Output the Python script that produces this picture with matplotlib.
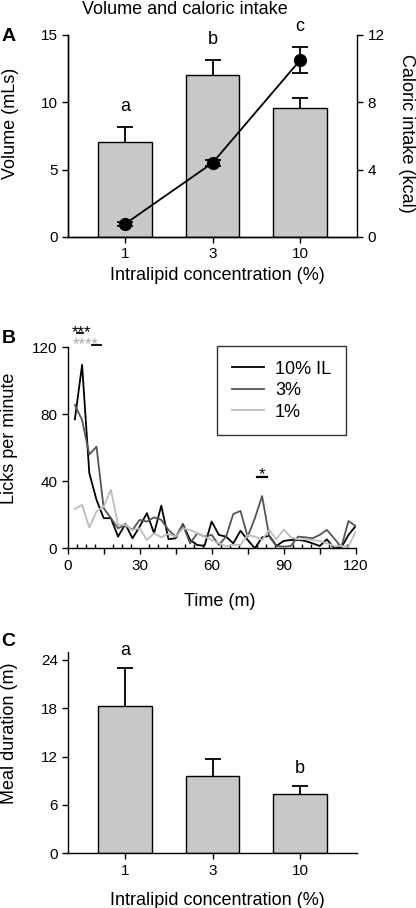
import numpy as np
import matplotlib
matplotlib.use("Agg")
import matplotlib.pyplot as plt
from matplotlib.ticker import MultipleLocator, FuncFormatter

plt.rcParams['font.family'] = ['Liberation Sans', 'DejaVu Sans']
plt.rcParams['axes.linewidth'] = 1.0

# panel A: volume (bars) and caloric intake (line)
conc_labels = ['1', '3', '10']
volume = [7.08, 12.03, 9.58]
volume_err = [1.11, 1.11, 0.72]
kcal = [0.77, 4.4, 10.5]
kcal_err = [0.1, 0.2, 0.78]
letters_a = ['a', 'b', 'c']

# panel B: licks per minute, 3 min bins
minutes = np.arange(3, 121, 3)
licks_10 = [77, 109.5, 45, 29, 18, 18, 7, 14.5, 6, 13,
            21, 9, 25.5, 5.5, 6, 14.5, 5, 2, 1.5, 16,
            8, 7, 3, 10.5, 5, 0, 6.5, 7.5, 1.5, 4.4,
            5, 5, 4.4, 3, 1.4, 5.4, 0, 0.5, 8, 13.3]
licks_3 = [85.6, 76.6, 56, 60.7, 24, 18, 12, 14, 11, 17,
           16, 18.5, 17, 11, 7, 14, 3, 9, 7, 8,
           2, 7, 20.5, 22.3, 7, 18, 31.2, 7, 1.4, 1,
           1.4, 7, 6.6, 6, 8, 11, 6, 0.6, 16.3, 13.3]
licks_1 = [23.5, 26, 12.5, 22, 25, 35, 14, 14, 11, 12,
           5, 9, 6.6, 8.6, 7, 12, 11, 9, 7, 5,
           3, 1.4, 2, 2, 8, 7, 5, 11, 5.4, 11.3,
           6.6, 5.4, 5.4, 5, 4.4, 3, 1.4, 1.4, 1, 10]

# panel C: meal duration
duration = [18.27, 9.61, 7.30]
duration_err = [4.73, 2.14, 1.07]
letters_c = ['a', '', 'b']

bar_color = '#c8c8c8'
tick_fs = 11
label_fs = 13

fig = plt.figure(figsize=(4.16, 9.08), dpi=100)
x = np.arange(len(conc_labels))


def bars_with_upper_err(ax, vals, errs):
    ax.bar(x, vals, width=0.61, color=bar_color, edgecolor='black', linewidth=1.0, zorder=2)
    _, caps, _ = ax.errorbar(x, vals, yerr=[np.zeros(len(vals)), errs], fmt='none',
                             ecolor='black', elinewidth=1.3, capsize=5.5, capthick=1.3,
                             zorder=1)
    # hide the cap sitting on the bar top
    for c in caps:
        if np.allclose(c.get_ydata(), vals):
            c.set_visible(False)


# ---------- A ----------
axA = fig.add_axes([0.1635, 0.739, 0.6947, 0.2225])
bars_with_upper_err(axA, volume, volume_err)
axA.set_xlim(-0.65, 2.65)
axA.set_ylim(0, 15)
axA.set_yticks([0, 5, 10, 15])
axA.set_xticks(x)
axA.set_xticklabels(conc_labels)
axA.spines['top'].set_visible(False)
axA.spines['right'].set_visible(False)
axA.tick_params(labelsize=tick_fs, direction='out', length=4, width=1)
axA.set_ylabel('Volume (mLs)', fontsize=label_fs)
axA.yaxis.set_label_coords(-0.168, 0.56)
axA.set_xlabel('Intralipid concentration (%)', fontsize=label_fs)
axA.xaxis.set_label_coords(0.516, -0.149)
axA.xaxis.label.set_va('top')

axA2 = axA.twinx()
axA2.errorbar(x, kcal, yerr=kcal_err, fmt='-o', color='black', ms=8.5, lw=1.3,
              elinewidth=1.3, capsize=5.5, capthick=1.3, zorder=3)
axA2.set_ylim(0, 12)
axA2.set_yticks([0, 4, 8, 12])
axA2.spines['top'].set_visible(False)
axA2.tick_params(labelsize=tick_fs, direction='out', length=4, width=1)
axA2.set_ylabel('Caloric intake (kcal)', fontsize=label_fs, rotation=270)
axA2.yaxis.set_label_coords(1.142, 0.515)
axA2.yaxis.label.set_va('bottom')

tops = [volume[0] + volume_err[0], volume[1] + volume_err[1],
        (kcal[2] + kcal_err[2]) * 15 / 12]
for xi, top, let in zip(x, tops, letters_a):
    axA.text(xi, top + 1.2, let, ha='center', va='baseline', fontsize=label_fs, clip_on=False)

fig.text(185 / 416, 1 - 1 / 908, 'Volume and caloric intake', ha='center', va='top', fontsize=label_fs)
fig.text(0.004, 1 - 36.7 / 908, 'A', ha='left', va='center', fontsize=14, fontweight='bold')

# ---------- B ----------
axB = fig.add_axes([0.1627, 0.3961, 0.6923, 0.2214])
axB.plot(minutes, licks_10, color='black', lw=1.3, label='10% IL')
axB.plot(minutes, licks_3, color='#555555', lw=1.3, label='3%')
axB.plot(minutes, licks_1, color='#bdbdbd', lw=1.3, label='1%')
axB.set_xlim(0, 120)
axB.set_ylim(0, 120)
axB.set_yticks([0, 40, 80, 120])
axB.xaxis.set_major_locator(MultipleLocator(15))
axB.xaxis.set_major_formatter(FuncFormatter(lambda v, p: f'{v:.0f}' if v % 30 == 0 else ''))
axB.xaxis.set_minor_locator(MultipleLocator(3.75))
axB.spines['top'].set_visible(False)
axB.spines['right'].set_visible(False)
axB.tick_params(axis='both', which='major', labelsize=tick_fs, direction='out', length=4, width=1)
axB.tick_params(axis='x', which='minor', direction='in', length=3, width=1)
axB.set_ylabel('Licks per minute', fontsize=label_fs)
axB.yaxis.set_label_coords(-0.172, 0.546)
axB.set_xlabel('Time (m)', fontsize=label_fs)
axB.xaxis.set_label_coords(0.529, -0.222)
axB.xaxis.label.set_va('top')
leg = axB.legend(loc='upper right', bbox_to_anchor=(0.965, 1.006), borderaxespad=0,
                 fontsize=label_fs, frameon=True, fancybox=False, handlelength=1.8,
                 labelspacing=0.25, borderpad=0.8, handletextpad=0.6)
leg.get_frame().set_edgecolor('black')
leg.get_frame().set_linewidth(1.0)

# significance marks
axB.text(5.9, 133.3, '***', ha='center', va='top', fontsize=12, color='black', clip_on=False)
axB.plot([3.75, 6.5], [128.5, 128.5], color='black', lw=1.3, clip_on=False)
axB.text(7.4, 126.1, '****', ha='center', va='top', fontsize=12, color='#aaaaaa', clip_on=False)
axB.plot([10, 14], [121.4, 121.4], color='black', lw=1.3, clip_on=False)
axB.text(80.8, 48.7, '*', ha='center', va='top', fontsize=12, color='black')
axB.plot([79, 83], [42.8, 42.8], color='black', lw=1.6)
fig.text(0.004, 1 - 338.5 / 908, 'B', ha='left', va='center', fontsize=14, fontweight='bold')

# ---------- C ----------
axC = fig.add_axes([0.164, 0.0602, 0.694, 0.2221])
bars_with_upper_err(axC, duration, duration_err)
axC.set_xlim(-0.65, 2.65)
axC.set_ylim(0, 25)
axC.set_yticks([0, 6, 12, 18, 24])
axC.set_xticks(x)
axC.set_xticklabels(conc_labels)
axC.spines['top'].set_visible(False)
axC.spines['right'].set_visible(False)
axC.tick_params(labelsize=tick_fs, direction='out', length=4, width=1)
axC.set_ylabel('Meal duration (m)', fontsize=label_fs)
axC.yaxis.set_label_coords(-0.173, 0.595)
axC.set_xlabel('Intralipid concentration (%)', fontsize=label_fs)
axC.xaxis.set_label_coords(0.515, -0.19)
axC.xaxis.label.set_va('top')
for xi, d, e, let in zip(x, duration, duration_err, letters_c):
    if let:
        axC.text(xi, d + e + 1.6, let, ha='center', va='baseline', fontsize=label_fs, clip_on=False)
fig.text(0.004, 1 - 641.5 / 908, 'C', ha='left', va='center', fontsize=14, fontweight='bold')

fig.savefig('out.png', dpi=100)
